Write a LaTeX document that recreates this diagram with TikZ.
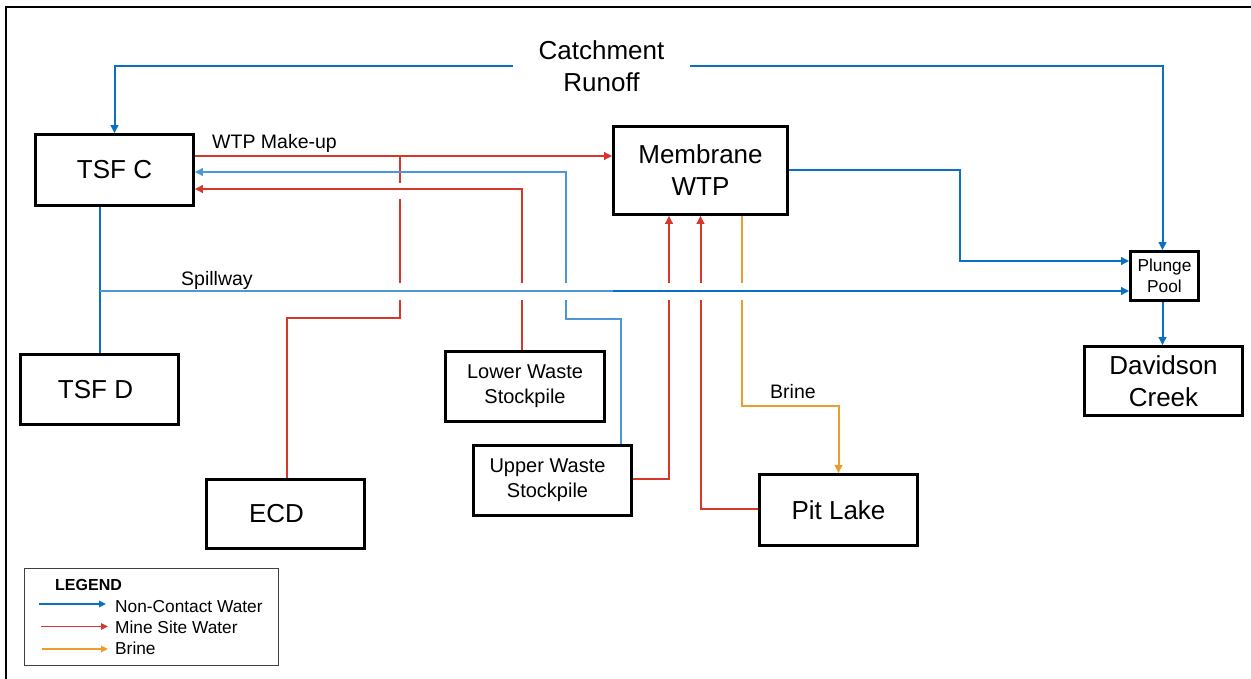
\documentclass[tikz,border=0pt]{standalone}
\usepackage{fontspec}
\setmainfont{Liberation Sans}
\usetikzlibrary{arrows.meta}
\definecolor{dblue}{HTML}{0A70C2}
\definecolor{lblue}{HTML}{4C97D8}
\definecolor{mred}{HTML}{D6372B}
\definecolor{brn}{HTML}{EE9B2F}
\begin{document}
\begin{tikzpicture}[x=1pt,y=-1pt,
  box/.style={draw, line width=2.6pt, inner sep=0pt, align=center},
  fbig/.style={font=\fontsize{26pt}{32pt}\selectfont},
  fmid/.style={font=\fontsize{20pt}{25pt}\selectfont},
  fsml/.style={font=\fontsize{17.3pt}{21pt}\selectfont},
  lbl/.style={font=\fontsize{19.5pt}{23pt}\selectfont, inner sep=0pt, anchor=base west},
  legtxt/.style={font=\fontsize{17.3pt}{20pt}\selectfont, inner sep=0pt, anchor=base west},
  flow/.style={line width=2pt},
  nc/.style={flow, draw=dblue},
  ncl/.style={flow, draw=lblue},
  msw/.style={flow, draw=mred},
  brw/.style={flow, draw=brn},
  arrowtip/.style={-{Triangle[length=8pt,width=7.5pt]}},
  legarrow/.style={line width=1.6pt, -{Triangle[length=7pt,width=6.5pt]}},
]
\useasboundingbox (0,0) rectangle (1251,679);
% frame
\draw[line width=2.2pt] (6,679) -- (6,7) -- (1251,7);

% boxes
\node[box,fbig,minimum width=158pt,minimum height=71pt] (tsfc) at (114.5,170) {TSF C};
\node[box,fbig,minimum width=174pt,minimum height=88pt] (wtp) at (700.5,170.5) {Membrane\\WTP};
\node[box,fsml,minimum width=68pt,minimum height=49pt] (plunge) at (1164.5,276) {Plunge\\Pool};
\node[box,fbig,minimum width=158pt,minimum height=69pt] (dav) at (1163.5,381) {Davidson\\Creek};
\node[box,minimum width=158pt,minimum height=70pt,label={[fbig,xshift=-4pt]center:TSF D}] (tsfd) at (99.5,389.5) {};
\node[box,minimum width=158pt,minimum height=69pt,label={[fbig,xshift=-9pt]center:ECD}] (ecd) at (285.5,514) {};
\node[box,fmid,minimum width=159pt,minimum height=70pt] (lws) at (525,386.5) {Lower Waste\\Stockpile};
\node[box,minimum width=158pt,minimum height=70pt,label={[fmid,align=center,xshift=-5pt]center:Upper Waste\\Stockpile}] (uws) at (552.5,480.5) {};
\node[box,fbig,minimum width=158pt,minimum height=71pt] (pit) at (838.5,510) {Pit Lake};
\node[fbig,align=center,minimum width=177pt,inner sep=0pt] (catch) at (601.5,66) {Catchment\\Runoff};

% catchment runoff
\draw[nc,arrowtip] (catch.west) -| (tsfc.north);
\draw[nc,arrowtip] (catch.east) -| ([xshift=-2pt]plunge.north);

% membrane to plunge pool, plunge pool to creek
\draw[nc,arrowtip] (wtp.east) -| (960,261) -- ([yshift=15pt]plunge.west);
\draw[nc,arrowtip] ([xshift=-2pt]plunge.south) -- ([xshift=-1pt]dav.north);

% WTP make-up
\coordinate (mk) at ([yshift=14pt]tsfc.east);
\draw[msw,arrowtip] (mk) -- (mk -| wtp.west);
\coordinate (j1) at (400,156);
\draw[msw] ([xshift=1.5pt]ecd.north) |- (400,318) -- (j1);
\fill[white] (395,183) rectangle (405,199);

% lower waste stockpile to TSF C
\coordinate (lw) at ([xshift=-3pt]lws.north);
\draw[msw,arrowtip] (lw) |- ([yshift=-19pt]tsfc.east);

% upper waste stockpile (non-contact) to TSF C
\draw[ncl,arrowtip] ([xshift=68.5pt]uws.north) |- (566,319) |- ([yshift=-2pt]tsfc.east);

% to membrane WTP
\draw[msw,arrowtip] ([yshift=1.5pt]uws.east) -| ([xshift=-31.5pt]wtp.south);
\draw[msw,arrowtip] ([yshift=1pt]pit.west) -| (wtp.south);

% brine
\draw[brw,arrowtip] ([xshift=41.5pt]wtp.south) |- (800,406) -| (pit.north);

% spillway (with line hops)
\fill[white] (390,283) rectangle (752,300);
\draw[nc] (tsfc.south -| tsfd.north) -- (tsfd.north);
\coordinate (sp) at (99.5,291);
\draw[nc,arrowtip] (sp) -- (sp -| plunge.west);
\draw[ncl] (sp) -- (613,291);

% labels
\node[lbl] (mklbl) at (212,149) {WTP Make-up};
\node[lbl] (splbl) at (181,286) {Spillway};
\node[lbl] (brlbl) at (770,398) {Brine};

% legend
\node[draw=black!75, line width=0.9pt, minimum width=254pt, minimum height=97pt, inner sep=0pt] (leg) at (151,616.5) {};
\node[legtxt, font=\fontsize{16pt}{19pt}\selectfont\bfseries] (legt) at (55,590) {LEGEND};
\coordinate (la1) at (39,604); \coordinate (lb1) at (106,604);
\coordinate (la2) at (41,626.5); \coordinate (lb2) at (108,626.5);
\coordinate (la3) at (42,649); \coordinate (lb3) at (108,649);
\draw[legarrow, draw=dblue] (la1) -- (lb1);
\draw[legarrow, draw=mred] (la2) -- (lb2);
\draw[legarrow, draw=brn] (la3) -- (lb3);
\node[legtxt] (lt1) at (115,612) {Non-Contact Water};
\node[legtxt] (lt2) at (115,633.5) {Mine Site Water};
\node[legtxt] (lt3) at (115,654) {Brine};
\end{tikzpicture}
\end{document}
